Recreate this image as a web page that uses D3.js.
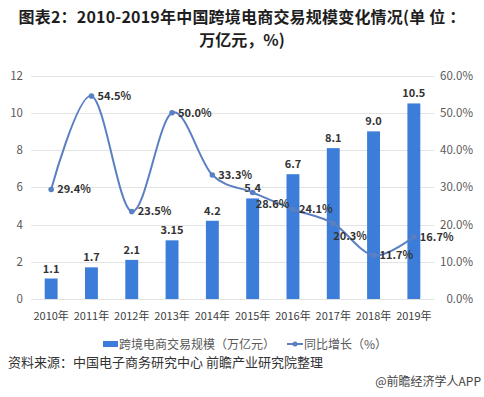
<!DOCTYPE html>
<html>
<head>
<meta charset="utf-8">
<title>图表2：2010-2019年中国跨境电商交易规模变化情况</title>
<script src="https://d3js.org/d3.v7.min.js"></script>
<style>
  body { margin: 0; background: #fff; }
  svg { display: block; font-family: "Noto Sans CJK SC", "Noto Sans", sans-serif; }
  .grid line { stroke: #e3e3e3; stroke-width: 1; }
  .bar { fill: #3b7dd8; }
  .line { fill: none; stroke: #5a7fc2; stroke-width: 2; }
  .tick-l, .tick-r { font-size: 11.5px; fill: #595959; }
  .cat { font-size: 11px; fill: #404040; }
  .val { font-size: 11px; fill: #333; font-weight: bold; }
</style>
</head>
<body>
<svg id="chart" width="484" height="397"></svg>
<script>
// data
var years = ["2010年","2011年","2012年","2013年","2014年","2015年","2016年","2017年","2018年","2019年"];
var scale = [1.1, 1.7, 2.1, 3.15, 4.2, 5.4, 6.7, 8.1, 9.0, 10.5];   // 万亿元
var growth = [29.4, 54.5, 23.5, 50.0, 33.3, 28.6, 24.1, 20.3, 11.7, 16.7]; // %
var leftTicks = [0, 2, 4, 6, 8, 10, 12];
var rightTicks = [0, 10, 20, 30, 40, 50, 60];

var svg = d3.select("#chart");
var plotLeft = 31, plotRight = 434, plotTop = 75.5, plotBottom = 299;

var x = d3.scaleBand().domain(years).range([plotLeft, plotRight]).paddingInner(0.68).paddingOuter(0.34);
var y = d3.scaleLinear().domain([0, 12]).range([plotBottom, plotTop]);
var y2 = d3.scaleLinear().domain([0, 60]).range([plotBottom, plotTop]);

// title, two lines
svg.append("text").attr("text-anchor", "middle")
  .attr("x", 242).attr("y", 23)
  .style("font-size", "16px").style("font-weight", "bold").style("fill", "#1e1e1e")
  .style("letter-spacing", "0.2px")
  .text("图表2：2010-2019年中国跨境电商交易规模变化情况(单 位 ：");
svg.append("text").attr("text-anchor", "middle")
  .attr("x", 242).attr("y", 46)
  .style("font-size", "16px").style("font-weight", "bold").style("fill", "#1e1e1e")
  .text("万亿元，%)");

// gridlines
svg.append("g").attr("class", "grid")
  .selectAll("line").data(leftTicks).enter().append("line")
  .attr("x1", plotLeft).attr("x2", plotRight)
  .attr("y1", function(d){ return Math.round(y(d)) + 0.5; })
  .attr("y2", function(d){ return Math.round(y(d)) + 0.5; });

// left axis labels
svg.append("g").selectAll("text").data(leftTicks).enter().append("text")
  .attr("class", "tick-l").attr("text-anchor", "end")
  .attr("x", 23).attr("y", function(d){ return y(d) + 4; })
  .text(function(d){ return d; });

// right axis labels
svg.append("g").selectAll("text").data(rightTicks).enter().append("text")
  .attr("class", "tick-r").attr("text-anchor", "end")
  .attr("x", 473).attr("y", function(d){ return y2(d) + 4; })
  .text(function(d){ return d.toFixed(1) + "%"; });

// category labels
svg.append("g").selectAll("text").data(years).enter().append("text")
  .attr("class", "cat").attr("text-anchor", "middle")
  .attr("x", function(d){ return x(d) + x.bandwidth() / 2; })
  .attr("y", 320)
  .text(function(d){ return d; });

// bars
svg.append("g").selectAll("rect").data(scale).enter().append("rect")
  .attr("class", "bar")
  .attr("x", function(d, i){ return x(years[i]); })
  .attr("width", x.bandwidth())
  .attr("y", function(d){ return y(d); })
  .attr("height", function(d){ return plotBottom - y(d); });

svg.append("g").selectAll("text").data(scale).enter().append("text")
  .attr("class", "val").attr("text-anchor", "middle")
  .attr("x", function(d, i){ return x(years[i]) + x.bandwidth() / 2; })
  .attr("y", function(d){ return y(d) - 6; })
  .text(function(d){ return Number.isInteger(d) ? d.toFixed(1) : String(d); });

// growth line
var cx = function(i){ return x(years[i]) + x.bandwidth() / 2; };
var line = d3.line()
  .x(function(d, i){ return cx(i); })
  .y(function(d){ return y2(d); })
  .curve(d3.curveCatmullRom.alpha(0));

svg.append("path").datum(growth).attr("class", "line").attr("d", line);

svg.append("g").selectAll("circle").data(growth).enter().append("circle")
  .attr("cx", function(d, i){ return cx(i); })
  .attr("cy", function(d){ return y2(d); })
  .attr("r", 2.8).attr("fill", "#5a7fc2");

// labels sit right of the point, a couple drop below
var below = { 5: [3, 16], 7: [0, 17] };
svg.append("g").selectAll("text").data(growth).enter().append("text")
  .attr("class", "val")
  .attr("x", function(d, i){ return cx(i) + (below[i] ? below[i][0] : 6); })
  .attr("y", function(d, i){ return y2(d) + (below[i] ? below[i][1] : 4); })
  .text(function(d){ return d.toFixed(1) + "%"; });

// legend
var lg = svg.append("g").style("font-size", "12px").style("fill", "#595959");
lg.append("rect").attr("x", 103).attr("y", 341).attr("width", 15).attr("height", 6).attr("fill", "#3b7dd8");
lg.append("text").attr("x", 119).attr("y", 348.5).text("跨境电商交易规模（万亿元）");
lg.append("line").attr("x1", 287).attr("x2", 303).attr("y1", 344).attr("y2", 344)
  .attr("stroke", "#5a7fc2").attr("stroke-width", 2);
lg.append("circle").attr("cx", 295).attr("cy", 344).attr("r", 2.5).attr("fill", "#5a7fc2");
lg.append("text").attr("x", 304).attr("y", 348.5).text("同比增长（%）");

// footer
svg.append("text").attr("x", 8).attr("y", 367)
  .style("font-size", "13px").style("fill", "#333")
  .text("资料来源：中国电子商务研究中心 前瞻产业研究院整理");
svg.append("text").attr("x", 481).attr("y", 386).attr("text-anchor", "end")
  .style("font-size", "12px").style("fill", "#444")
  .text("@前瞻经济学人APP");
</script>
</body>
</html>
